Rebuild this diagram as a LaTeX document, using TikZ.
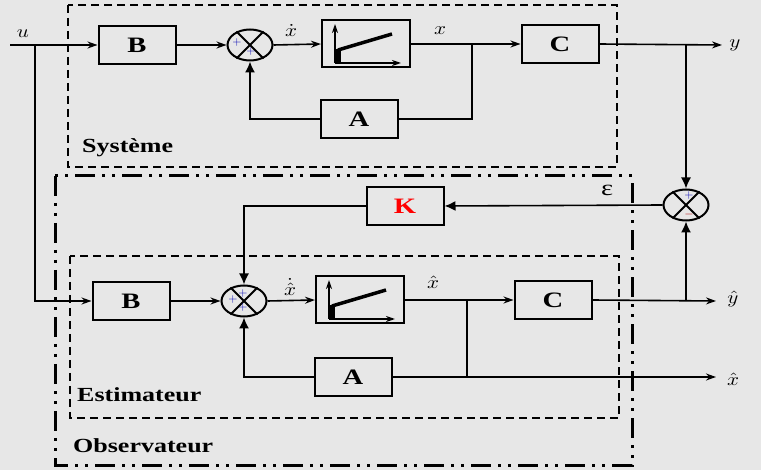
\documentclass[tikz,border=0pt]{standalone}
\usepackage{fontspec}
\setmainfont{Liberation Serif}
\usepackage{graphicx}
\usetikzlibrary{arrows.meta,shapes.geometric}
\newcommand{\xw}[1]{\scalebox{1.3}[1]{#1}}
\newcommand{\sg}[1]{\scalebox{2.1}[1.8]{$#1$}}
\tikzset{
  blk/.style={draw,line width=2pt,minimum width=77pt,minimum height=38pt,inner sep=0pt,font=\bfseries\fontsize{22}{22}\selectfont},
  intg/.style={draw,line width=2pt,minimum width=88pt,minimum height=47pt,inner sep=0pt},
  sumj/.style={ellipse,draw,line width=2pt,minimum width=45pt,minimum height=31pt,inner sep=0pt},
  wire/.style={line width=1.6pt},
  arr/.style={wire,-{Stealth[length=10pt,width=7pt]}},
  fb/.style={wire,-{Latex[length=11pt,width=10pt]}},
  sys/.style={line width=2.6pt,dash pattern=on 8pt off 5pt},
  obs/.style={line width=3pt,dash pattern=on 20pt off 7pt on 3pt off 7pt on 3pt off 7pt},
  grp/.style={font=\bfseries\fontsize{20}{20}\selectfont,anchor=base west,inner sep=0pt},
  sig/.style={font=\fontsize{10}{12}\selectfont,inner sep=0pt},
  sgn/.style={font=\fontsize{13}{13}\selectfont,text=blue!70!black,inner sep=0pt},
}
\begin{document}
\begin{tikzpicture}[x=1pt,y=-1pt]
\fill[gray!19] (0,0) rectangle (761,470);
\useasboundingbox (0,0) rectangle (761,470);

% frames
\draw[sys] (68,5) rectangle (617,167);
\draw[obs] (55,176) rectangle (632,465);
\draw[sys] (70,256) rectangle (619,418);
\node[grp] (lsys) at (82,153) {\xw{Système}};
\node[grp] (lest) at (77,402) {\xw{Estimateur}};
\node[grp] (lobs) at (73,453) {\xw{Observateur}};

% system
\node[blk] (B1) at (137,45) {\xw{B}};
\node[sumj] (S1) at (250,45) {};
\node[intg] (I1) at (366,44) {};
\node[blk] (C1) at (560,44) {\xw{C}};
\node[blk] (A1) at (359,119) {\xw{A}};

% observer
\node[blk,text=red] (K) at (405,206) {\xw{K}};
\node[sumj] (S2) at (686,205) {};
\node[blk] (B2) at (131,301) {\xw{B}};
\node[sumj] (S3) at (244,301) {};
\node[intg] (I2) at (360,300) {};
\node[blk] (C2) at (553,300) {\xw{C}};
\node[blk] (A2) at (353,377) {\xw{A}};

% branch points
\coordinate (in) at (10,45);
\coordinate (br0) at (35,45);
\coordinate (br1) at (472,45);
\coordinate (br2) at (686,45);
\coordinate (yout) at (722,45);
\coordinate (br3) at (686,301);
\coordinate (br4) at (467,301);
\coordinate (yhout) at (716,301);
\coordinate (xhout) at (716,377);

% integrator symbols
\foreach \n in {I1,I2}{
  \draw[line width=1.6pt,-{Stealth[length=9pt,width=6pt]}] ([shift={(-31,19)}]\n.center) -- ([shift={(-31,-20)}]\n.center);
  \draw[line width=1.6pt,-{Stealth[length=9pt,width=6pt]}] ([shift={(-31,19)}]\n.center) -- ([shift={(35,19)}]\n.center);
  \draw[line width=5pt] ([shift={(-28,19)}]\n.center) -- ([shift={(-28,5)}]\n.center);
  \draw[line width=3.5pt] ([shift={(-28,6)}]\n.center) -- ([shift={(26,-10)}]\n.center);
}
% summing junctions
\foreach \n in {S1,S2,S3}{
  \draw[line width=1.8pt] (\n.135) -- (\n.-45) (\n.45) -- (\n.-135);
}
\node[sgn] (p1) at ([shift={(-13,-2)}]S1.center) {$+$};
\node[sgn] (p2) at ([shift={(1,7)}]S1.center) {$+$};
\node[sgn] (p3) at ([shift={(-11,-1)}]S3.center) {$+$};
\node[sgn] (p4) at ([shift={(-1,-7)}]S3.center) {$+$};
\node[sgn] (p5) at ([shift={(-1,7)}]S3.center) {$+$};
\node[sgn] (p6) at ([shift={(3,-9)}]S2.center) {$+$};
\node[sgn,text=red!70!black] (p7) at ([shift={(3,10)}]S2.center) {$-$};

% system wires
\draw[arr] (in) -- (B1.west);
\draw[arr] (B1.east) -- (S1.west);
\draw[arr] (S1.east) -- (I1.west);
\draw[arr] (I1.east) -- (C1.west);
\draw[arr] (C1.east) -- (yout);
\draw[wire] (br1) |- (A1.east);
\draw[fb] (A1.west) -| (S1.south);
\draw[fb] (br2) -- (S2.north);

% observer wires
\draw[arr] (br0) |- (B2.west);
\draw[fb] (S2.west) -- (K.east);
\draw[fb] (K.west) -| (S3.north);
\draw[arr] (B2.east) -- (S3.west);
\draw[arr] (S3.east) -- (I2.west);
\draw[arr] (I2.east) -- (C2.west);
\draw[arr] (C2.east) -- (yhout);
\draw[fb] (br3) -- (S2.south);
\draw[wire] (br4) -- (br4 |- A2.east);
\draw[arr] (A2.east) -- (xhout);
\draw[fb] (A2.west) -| (S3.south);

% signal labels
\node[sig] (lu) at (23,34) {\sg{u}};
\node[sig] (lxd) at (291,30) {\sg{\dot{x}}};
\node[sig] (lx) at (440,31) {\sg{x}};
\node[sig] (ly) at (735,45) {\sg{y}};
\node[sig] (leps) at (607,190) {\scalebox{1.3}[1]{\fontsize{22}{22}\selectfont ε}};
\node[sig] (lxhd) at (290,287) {\sg{\dot{\hat{x}}}};
\node[sig] (lxh) at (433,282) {\sg{\hat{x}}};
\node[sig] (lyh) at (733,299) {\sg{\hat{y}}};
\node[sig] (lxh2) at (733,379) {\sg{\hat{x}}};
\end{tikzpicture}
\end{document}
